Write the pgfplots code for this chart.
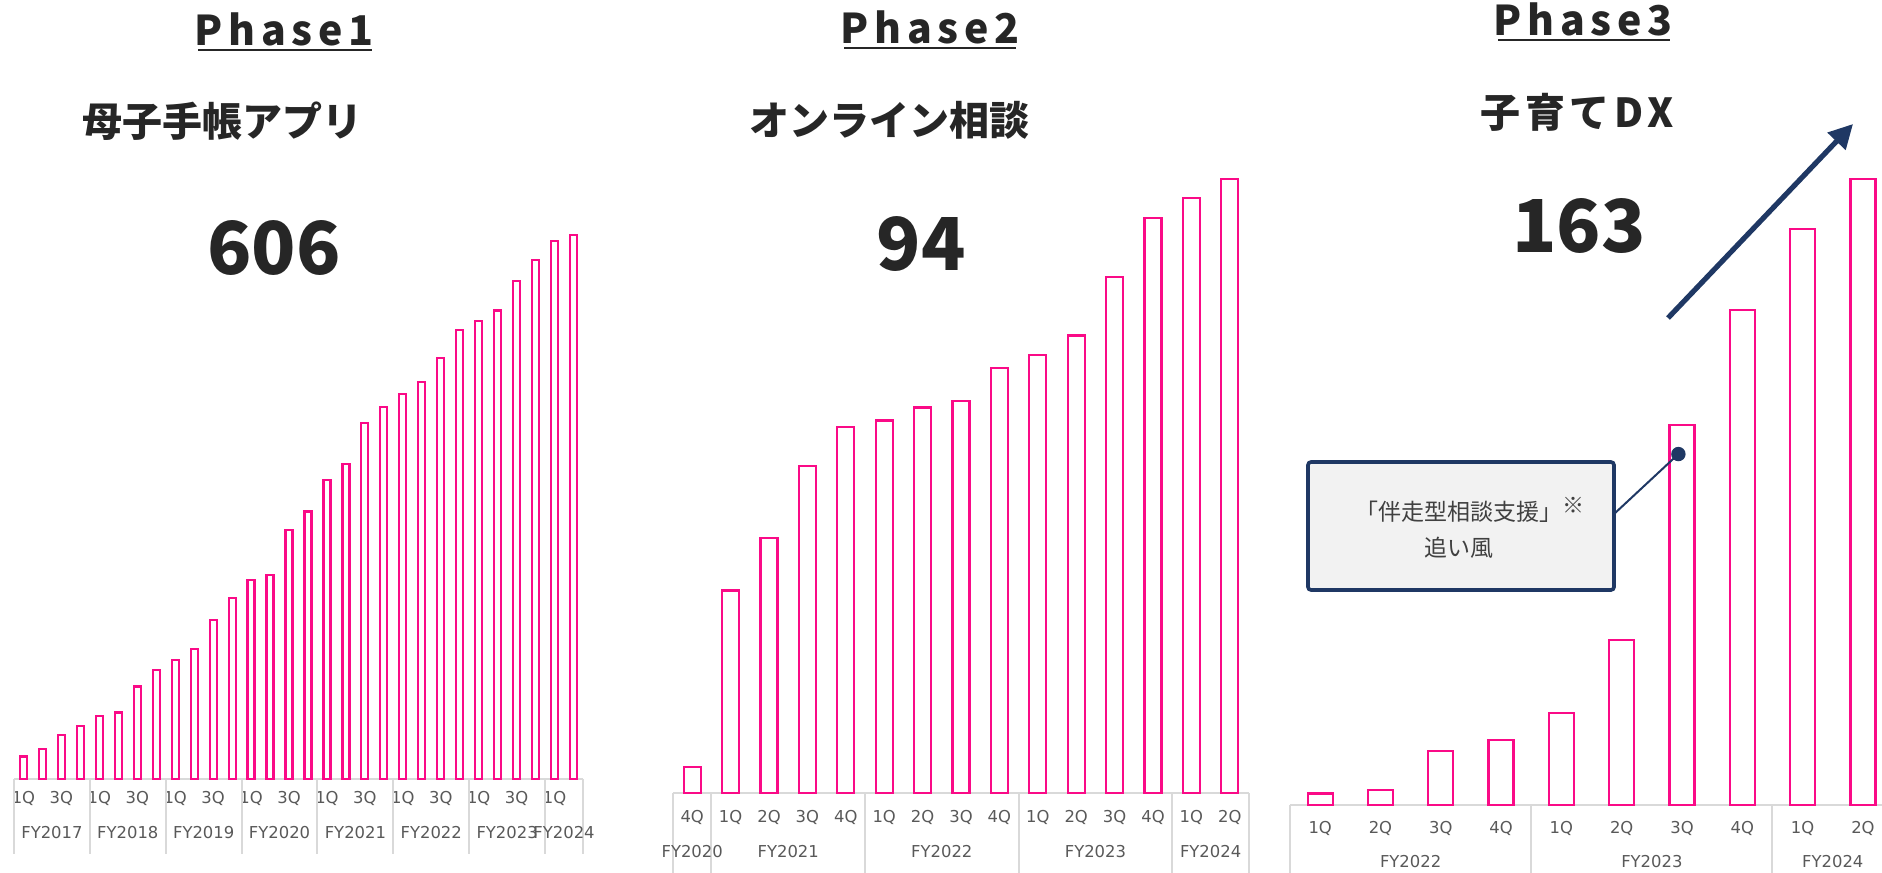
\documentclass[border=0pt]{standalone}
\usepackage{pgfplots}
\pgfplotsset{compat=1.18}
\usetikzlibrary{arrows.meta}
\usepackage{fontspec}
\setmainfont{Noto Sans CJK JP}
\newfontfamily\jp{Noto Sans CJK JP}
\newfontfamily\jpsp[LetterSpace=14]{Noto Sans CJK JP}
\newfontfamily\jpspb[LetterSpace=12]{Noto Sans CJK JP}
\newfontfamily\tickfont{DejaVu Sans}
\definecolor{barpink}{RGB}{250,10,135}
\definecolor{navy}{RGB}{31,56,100}
\definecolor{tickgray}{RGB}{89,89,89}
\definecolor{linegray}{RGB}{217,217,217}
\definecolor{titleblack}{RGB}{38,38,38}
\definecolor{boxfill}{RGB}{242,242,242}
\definecolor{boxtext}{RGB}{64,64,64}
\newcommand{\tf}{\tickfont\fontsize{8.2}{9}\selectfont}
\pgfplotsset{phase/.style={
  scale only axis, ybar, ymin=0, clip=false,
  axis x line=bottom, axis y line=none,
  x axis line style={-, draw=linegray, line width=1pt},
  xtick=data, xtick style={draw=none}, major tick length=0pt,
  xticklabel style={font=\tf, text=tickgray, anchor=center, text height=5.5pt, text depth=0.5pt},
}}
\tikzset{pinkbar/.style={draw=barpink, fill=white, line width=1.1pt}}
\begin{document}
\begin{tikzpicture}
\useasboundingbox (0,0) rectangle (941pt,-436pt);

% ---------- Panel 1 ----------
\begin{axis}[phase, at={(7pt,-389.5pt)}, anchor=south west,
  width=284.5pt, height=300pt, xmin=-0.5, xmax=29.5, ymax=668.4,
  bar width=3.5pt, xticklabel style={yshift=-9.5pt},
  xticklabels={1Q,,3Q,,1Q,,3Q,,1Q,,3Q,,1Q,,3Q,,1Q,,3Q,,1Q,,3Q,,1Q,,3Q,,1Q,}]
\addplot[pinkbar] coordinates {(0,25) (1,33) (2,49) (3,59) (4,70) (5,74) (6,103) (7,121) (8,133) (9,145)
 (10,177) (11,202) (12,222) (13,227) (14,277) (15,298) (16,333) (17,351) (18,397) (19,414)
 (20,429) (21,442) (22,469) (23,500) (24,510) (25,522) (26,555) (27,578) (28,599) (29,606)};
\pgfplotsinvokeforeach{-0.5,3.5,7.5,11.5,15.5,19.5,23.5,27.5,29.5}{\draw[linegray,line width=1pt] (axis cs:#1,0) -- ++(0pt,-37.5pt);}
\node[font=\tf,text=tickgray] at (axis cs:1.5,0) [yshift=-27pt] {FY2017};
\node[font=\tf,text=tickgray] at (axis cs:5.5,0) [yshift=-27pt] {FY2018};
\node[font=\tf,text=tickgray] at (axis cs:9.5,0) [yshift=-27pt] {FY2019};
\node[font=\tf,text=tickgray] at (axis cs:13.5,0) [yshift=-27pt] {FY2020};
\node[font=\tf,text=tickgray] at (axis cs:17.5,0) [yshift=-27pt] {FY2021};
\node[font=\tf,text=tickgray] at (axis cs:21.5,0) [yshift=-27pt] {FY2022};
\node[font=\tf,text=tickgray] at (axis cs:25.5,0) [yshift=-27pt] {FY2023};
\node[font=\tf,text=tickgray] at (axis cs:28.5,0) [yshift=-27pt] {FY2024};
\end{axis}

% ---------- Panel 2 ----------
\begin{axis}[phase, at={(336.5pt,-396.5pt)}, anchor=south west,
  width=288pt, height=330pt, xmin=-0.5, xmax=14.5, ymax=101.0,
  bar width=8.5pt, xticklabel style={yshift=-12pt},
  xticklabels={4Q,1Q,2Q,3Q,4Q,1Q,2Q,3Q,4Q,1Q,2Q,3Q,4Q,1Q,2Q}]
\addplot[pinkbar] coordinates {(0,4) (1,31) (2,39) (3,50) (4,56) (5,57) (6,59) (7,60) (8,65) (9,67)
 (10,70) (11,79) (12,88) (13,91) (14,94)};
\pgfplotsinvokeforeach{-0.5,0.5,4.5,8.5,12.5,14.5}{\draw[linegray,line width=1pt] (axis cs:#1,0) -- ++(0pt,-42pt);}
\node[font=\tf,text=tickgray] at (axis cs:0,0) [yshift=-29.5pt] {FY2020};
\node[font=\tf,text=tickgray] at (axis cs:2.5,0) [yshift=-29.5pt] {FY2021};
\node[font=\tf,text=tickgray] at (axis cs:6.5,0) [yshift=-29.5pt] {FY2022};
\node[font=\tf,text=tickgray] at (axis cs:10.5,0) [yshift=-29.5pt] {FY2023};
\node[font=\tf,text=tickgray] at (axis cs:13.5,0) [yshift=-29.5pt] {FY2024};
\end{axis}

% ---------- Panel 3 ----------
\begin{axis}[phase, at={(645pt,-402.5pt)}, anchor=south west,
  width=295.8pt, height=340pt, xmin=-0.5, xmax=9.31, ymax=177.1,
  bar width=12.5pt, xticklabel style={yshift=-11.5pt},
  xticklabels={1Q,2Q,3Q,4Q,1Q,2Q,3Q,4Q,1Q,2Q}]
\addplot[pinkbar] coordinates {(0,3) (1,4) (2,14) (3,17) (4,24) (5,43) (6,99) (7,129) (8,150) (9,163)};
\pgfplotsinvokeforeach{-0.5,3.5,7.5}{\draw[linegray,line width=1pt] (axis cs:#1,0) -- ++(0pt,-36pt);}
\node[font=\tf,text=tickgray] at (axis cs:1.5,0) [yshift=-28.5pt] {FY2022};
\node[font=\tf,text=tickgray] at (axis cs:5.5,0) [yshift=-28.5pt] {FY2023};
\node[font=\tf,text=tickgray] at (axis cs:8.5,0) [yshift=-28.5pt] {FY2024};
\coordinate (dot) at (axis cs:5.94,91.4);
\end{axis}

% ---------- Titles ----------
\node[anchor=base, text=titleblack, font=\jpsp\bfseries\fontsize{20.5}{24}\selectfont] at (142pt,-23pt) {Phase1};
\draw[titleblack, line width=1pt] (99pt,-24.8pt) -- (186pt,-24.8pt);
\node[anchor=base, text=titleblack, font=\jpsp\bfseries\fontsize{20.5}{24}\selectfont] at (465pt,-22pt) {Phase2};
\draw[titleblack, line width=1pt] (422pt,-23.8pt) -- (508pt,-23.8pt);
\node[anchor=base, text=titleblack, font=\jpsp\bfseries\fontsize{20.5}{24}\selectfont] at (791.5pt,-18pt) {Phase3};
\draw[titleblack, line width=1pt] (749pt,-19.8pt) -- (835pt,-19.8pt);

\node[text=titleblack, font=\jp\bfseries\fontsize{20}{24}\selectfont] at (111pt,-60.5pt) {母子手帳アプリ};
\node[text=titleblack, font=\jp\bfseries\fontsize{20}{24}\selectfont] at (444.5pt,-60pt) {オンライン相談};
\node[text=titleblack, font=\jpspb\bfseries\fontsize{20}{24}\selectfont] at (788.5pt,-56pt) {子育てDX};

\node[anchor=base, text=titleblack, font=\jp\bfseries\fontsize{36.5}{40}\selectfont] at (137pt,-137pt) {606};
\node[anchor=base, text=titleblack, font=\jp\bfseries\fontsize{36.5}{40}\selectfont] at (460.5pt,-135pt) {94};
\node[anchor=base, text=titleblack, font=\jp\bfseries\fontsize{36.5}{40}\selectfont] at (789.5pt,-126pt) {163};

% ---------- Arrow ----------
\draw[navy, line width=2.6pt, -{Triangle[length=12pt,width=12pt]}] (834pt,-159pt) -- (926.5pt,-62pt);

% ---------- Callout ----------
\draw[navy, line width=1pt] (807pt,-257pt) -- (dot);
\fill[navy] (dot) circle (3.6pt);
\draw[navy, line width=1.8pt, fill=boxfill, rounded corners=1.5pt] (654pt,-231pt) rectangle (807pt,-295pt);
\node[text=boxtext, font=\jp\fontsize{11.5}{18}\selectfont, align=center] at (729.5pt,-264pt)
  {「伴走型相談支援」\rlap{\raisebox{0.55ex}{\fontsize{11}{11}\selectfont ※}}\\追い風};
\end{tikzpicture}
\end{document}
